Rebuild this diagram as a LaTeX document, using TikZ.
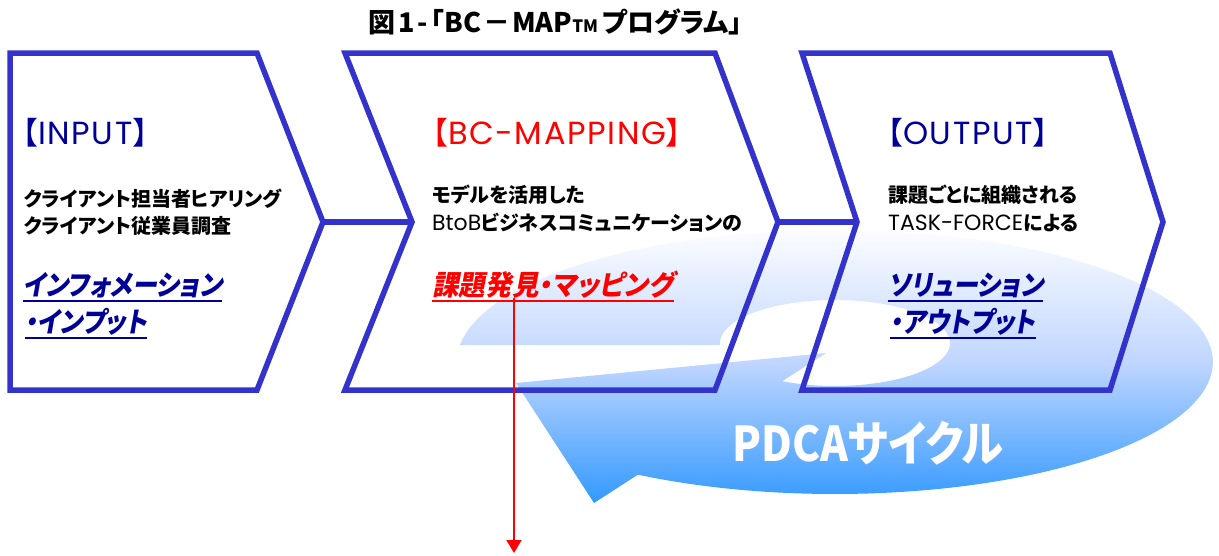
\documentclass[tikz,border=0pt]{standalone}
\usepackage{fontspec}
\setmainfont{Noto Sans CJK JP}[RawFeature=+palt]
\newfontfamily\headfont{Noto Sans CJK JP}
\newfontfamily\slantfont{Noto Sans CJK JP}[RawFeature=+palt, FakeSlant=0.2]
\newfontfamily\widefont{Poppins}
\newfontfamily\spacedfont{Poppins}[LetterSpace=5]
\usepackage{tikz}
\usetikzlibrary{arrows.meta, positioning}
\usepackage{xcolor}

\definecolor{chevblue}{RGB}{51,51,204}
\definecolor{navytext}{RGB}{0,0,153}
\definecolor{cycletop}{RGB}{255,255,255}
\definecolor{cyclemid}{RGB}{192,214,255}
\definecolor{cyclebot}{RGB}{51,153,255}

% wide latin words inside the japanese lines
\newcommand{\latin}[1]{{\widefont\mdseries\fontsize{22}{22}\selectfont #1}}
% bracketed step heading
\newcommand{\stephead}[1]{{\headfont 【}{\spacedfont\fontsize{32}{32}\selectfont #1}{\headfont 】}}
% slim slanted link text
\newcommand{\slim}[2][0.89]{\scalebox{#1}[1]{#2}}

\begin{document}
\begin{tikzpicture}[x=1pt, y=-1pt, >=Stealth,
    chevron/.style={draw=chevblue, line width=5.5pt},
    link/.style={draw=chevblue, line width=5.5pt},
    headtxt/.style={font=\fontsize{31}{31}\selectfont, anchor=base west, inner sep=0pt},
    bodytxt/.style={font=\bfseries\fontsize{20}{20}\selectfont, anchor=base west, inner sep=0pt},
    linktxt/.style={font=\slantfont\bfseries\fontsize{28}{28}\selectfont, anchor=base west, inner sep=0pt},
    uline/.style={line width=2pt},
    redarrow/.style={red, line width=1.6pt, -{Triangle[width=15pt,length=13pt]}}]
    \useasboundingbox (0,0) rectangle (1219,555);

    % PDCA cycle arrow behind the steps
    \path[top color=cycletop, bottom color=cyclebot, middle color=cyclemid]
        (460,345) arc[start angle=187.4, end angle=481.4, x radius=378, y radius=132]
        -- (594,503) -- (516,383) -- (826,353) -- (782.3,381.2)
        arc[start angle=117.3, end angle=-182.7, x radius=115, y radius=43] -- cycle;
    \node[font=\bfseries\fontsize{48}{48}\selectfont, text=white, anchor=base west, inner sep=0pt] (pdca) at (732,461) {\scalebox{0.88}[1]{PDCAサイクル}};

    % title
    \node[font=\bfseries\fontsize{27}{27}\selectfont, anchor=base west, inner sep=0pt] (title) at (368,32)
        {図\hspace{3pt}1\hspace{3pt}-\hspace{3pt}「BC\hspace{2pt}－\hspace{2pt}MAP{\fontsize{17}{17}\selectfont TM}\hspace{4pt}プログラム」};

    % three steps
    \draw[chevron] (10,53) -- (257,53) -- (323,222) -- (257,390) -- (10,390) -- cycle;
    \draw[chevron] (345,53) -- (715,53) -- (778,222) -- (715,390) -- (345,390) -- (412,222) -- cycle;
    \draw[chevron] (802,53) -- (1110,53) -- (1163,222) -- (1110,390) -- (802,390) -- (857,222) -- cycle;
    \coordinate (in_tip) at (323,222);
    \coordinate (map_notch) at (412,222);
    \coordinate (map_tip) at (778,222);
    \coordinate (out_notch) at (857,222);
    \draw[link] (in_tip) -- (map_notch);
    \draw[link] (map_tip) -- (out_notch);

    % INPUT
    \node[headtxt, text=navytext] (in_head) at (7,144) {\stephead{INPUT}};
    \node[bodytxt] (in_line1) at (24,206) {クライアント担当者ヒアリング};
    \node[bodytxt] (in_line2) at (24,233) {クライアント従業員調査};
    \node[linktxt, text=navytext] (in_link1) at (23,295) {\slim{インフォメーション}};
    \node[linktxt, text=navytext] (in_link2) at (25,332) {\slim{・インプット}};
    \draw[navytext, uline] ([yshift=-6pt]in_link1.base west) -- ([yshift=-6pt]in_link1.base east);
    \draw[navytext, uline] ([yshift=-6pt]in_link2.base west) -- ([yshift=-6pt]in_link2.base east);

    % BC-MAPPING
    \node[headtxt, text=red] (map_head) at (417,144) {\stephead{BC-MAPPING}};
    \node[bodytxt] (map_line1) at (432,202) {モデルを活用した};
    \node[bodytxt] (map_line2) at (432,230) {\latin{BtoB}ビジネスコミュニケーションの};
    \node[linktxt, text=red] (map_link) at (432,295) {\slim[0.95]{課題発見・マッピング}};
    \draw[red, uline] ([yshift=-6pt]map_link.base west) -- ([yshift=-6pt]map_link.base east);

    % OUTPUT
    \node[headtxt, text=navytext] (out_head) at (872,144) {\stephead{OUTPUT}};
    \node[bodytxt] (out_line1) at (888,202) {課題ごとに組織される};
    \node[bodytxt] (out_line2) at (888,230) {\latin{TASK-FORCE}による};
    \node[linktxt, text=navytext] (out_link1) at (888,295) {\slim{ソリューション}};
    \node[linktxt, text=navytext] (out_link2) at (890,332) {\slim{・アウトプット}};
    \draw[navytext, uline] ([yshift=-6pt]out_link1.base west) -- ([yshift=-6pt]out_link1.base east);
    \draw[navytext, uline] ([yshift=-6pt]out_link2.base west) -- ([yshift=-6pt]out_link2.base east);

    % drop line from the mapping step
    \coordinate (drop) at (514,553);
    \draw[redarrow] (map_link.south -| drop) -- (drop);
\end{tikzpicture}
\end{document}
